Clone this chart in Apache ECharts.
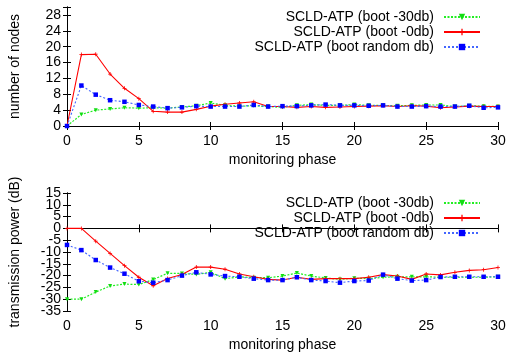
<!DOCTYPE html>
<html>
<head>
<meta charset="utf-8">
<script src="https://cdn.jsdelivr.net/npm/echarts@6/dist/echarts.min.js"></script>
<style>
  html, body { margin: 0; padding: 0; background: #fff; }
  #chart { width: 509px; height: 360px; }
</style>
</head>
<body>
<div id="chart"></div>
<script>
// monitoring phases (x)
const phases = [0, 1, 2, 3, 4, 5, 6, 7, 8, 9, 10, 11, 12, 13, 14, 15, 16, 17, 18, 19, 20, 21, 22, 23, 24, 25, 26, 27, 28, 29, 30]

const seriesNames = ["SCLD-ATP (boot -30db)", "SCLD-ATP (boot -0db)", "SCLD-ATP (boot random db)"]

// number of nodes
const nodes30db = [0, 2.9, 4.0, 4.3, 4.6, 4.5, 4.6, 4.5, 4.8, 5.1, 5.8, 5.2, 5.0, 5.1, 4.9, 4.7, 5.2, 5.4, 5.2, 5.2, 5.4, 5.2, 5.2, 5.1, 5.2, 5.3, 5.3, 4.9, 5.1, 5.0, 4.9]
const nodes0db = [0, 18.0, 18.1, 13.1, 9.5, 6.9, 3.7, 3.5, 3.5, 4.2, 5.0, 5.5, 5.8, 6.1, 4.9, 4.9, 4.7, 4.9, 4.7, 4.8, 4.9, 5.0, 5.1, 4.9, 5.1, 5.0, 4.6, 4.8, 5.0, 4.9, 4.9]
const nodesRandom = [0, 10.2, 7.9, 6.5, 6.1, 5.3, 4.9, 4.5, 4.7, 5.0, 4.9, 4.9, 4.9, 5.3, 4.9, 5.0, 5.0, 5.2, 5.4, 5.2, 5.2, 5.1, 5.2, 4.9, 4.9, 5.0, 4.9, 4.9, 5.1, 4.6, 4.7]

// transmission power (dB)
const power30db = [-30, -30, -27, -24.4, -23.6, -23.8, -21.7, -19, -19.1, -19.5, -18.6, -21.3, -20.5, -20.9, -20.9, -20.2, -18.9, -20.2, -21, -21.6, -21.1, -21.3, -20.7, -20.5, -20.5, -20.5, -20.7, -20.7, -20.7, -20.7, -20.5]
const power0db = [0, 0, -5.4, -10.6, -15.8, -20.7, -24.3, -21.2, -19.5, -16.4, -16.4, -17.3, -19.3, -20.5, -21.6, -21.9, -20.7, -21.6, -21.3, -21.3, -21.3, -20.7, -19.6, -20.2, -21.6, -19.3, -19.7, -18.6, -17.8, -17.5, -16.6]
const powerRandom = [-7.0, -9.2, -13.4, -16.6, -19.2, -22.4, -23, -21.9, -20, -18.6, -19.5, -20.2, -20.5, -21.3, -21.9, -21.9, -20.7, -21.9, -22.3, -23, -22.3, -22.1, -19.6, -21.3, -22.1, -21.9, -20.6, -20.5, -20.5, -20.5, -20.5]

const plusPath = "path://M0,1.6H1.6V0H2.4V1.6H4V2.4H2.4V4H1.6V2.4H0Z"

const font = "Liberation Sans"
const fs = 14
const grids = [
  { left: 65, right: 11, top: 7, height: 119 },
  { left: 65, right: 11, top: 193, height: 118 },
]

function xAxes(gi) {
  return [
    {
      type: "value", gridIndex: gi, min: 0, max: 30, interval: 5,
      name: "monitoring phase", nameLocation: "middle", nameGap: 27,
      nameTextStyle: { fontFamily: font, fontSize: fs, color: "#000" },
      axisLine: { show: true, lineStyle: { color: "#000", width: 1 } },
      axisTick: { inside: true, length: 4, lineStyle: { color: "#000" } },
      axisLabel: { fontFamily: font, fontSize: fs, color: "#000", margin: 8, showMinLabel: true, showMaxLabel: true },
      splitLine: { show: false },
    },
    {
      type: "value", gridIndex: gi, min: 0, max: 30, interval: 5, position: "top",
      axisLine: { show: true, lineStyle: { color: "#000", width: 1 } },
      axisTick: { inside: true, length: 4, lineStyle: { color: "#000" } },
      axisLabel: { show: false },
      splitLine: { show: false },
    },
  ]
}

// main left axis (labels except the ends) + right mirror axis + a label-only axis for the end values
function yAxes(gi, min, max, interval, name) {
  return [
    {
      type: "value", gridIndex: gi, min: min, max: max, interval: interval,
      name: name, nameLocation: "middle", nameGap: 45,
      nameTextStyle: { fontFamily: font, fontSize: fs, color: "#000" },
      axisLine: { show: true, lineStyle: { color: "#000", width: 1 } },
      axisTick: { inside: true, length: 4, lineStyle: { color: "#000" } },
      axisLabel: {
        fontFamily: font, fontSize: fs, color: "#000", margin: 6,
        formatter: (v) => (v === min || v === max ? "" : String(v)),
      },
      splitLine: { show: false },
    },
    {
      type: "value", gridIndex: gi, min: min, max: max, interval: interval, position: "right",
      axisLine: { show: true, lineStyle: { color: "#000", width: 1 } },
      axisTick: { inside: true, length: 4, lineStyle: { color: "#000" } },
      axisLabel: { show: false },
      splitLine: { show: false },
    },
    {
      type: "value", gridIndex: gi, min: min, max: max, interval: max - min, position: "left",
      axisLine: { show: false }, axisTick: { show: false }, splitLine: { show: false },
      axisLabel: {
        fontFamily: font, fontSize: fs, color: "#000", margin: 6,
        showMinLabel: true, showMaxLabel: true,
        formatter: (v) => (gi === 0 && v === max ? "" : String(v)),
      },
    },
  ]
}

function pairs(ys) {
  return phases.map((x, i) => [x, ys[i]])
}

function makeSeries(gi, green, red, blue) {
  const xi = gi * 2
  const yi = gi * 3
  return [
    {
      name: seriesNames[0], type: "line", xAxisIndex: xi, yAxisIndex: yi,
      data: pairs(green), symbol: "triangle", symbolRotate: 180, symbolSize: 4,
      lineStyle: { color: "#22ee22", width: 1.2, type: [2, 1.5] },
      itemStyle: { color: "#11dd11" }, animation: false,
    },
    {
      name: seriesNames[1], type: "line", xAxisIndex: xi, yAxisIndex: yi,
      data: pairs(red), symbol: plusPath, symbolSize: 4,
      lineStyle: { color: "#ff0000", width: 1.1 },
      itemStyle: { color: "#ff0000" }, animation: false,
    },
    {
      name: seriesNames[2], type: "line", xAxisIndex: xi, yAxisIndex: yi,
      data: pairs(blue), symbol: "rect", symbolSize: 4.5,
      lineStyle: { color: "#4466ff", width: 1.1, type: [2, 2] },
      itemStyle: { color: "#0000ff" }, animation: false,
    },
  ]
}

function legendAt(top) {
  return {
    data: seriesNames, orient: "vertical", align: "right",
    right: 23, top: top, itemWidth: 36, itemHeight: 8, itemGap: 1,
    textStyle: { fontFamily: font, fontSize: fs, color: "#000", lineHeight: 14, padding: [0, 5, 0, 0] },
    selectedMode: false,
  }
}

const chart = echarts.init(document.getElementById("chart"))
chart.setOption({
  backgroundColor: "#fff",
  animation: false,
  grid: grids,
  legend: [legendAt(5), legendAt(191)],
  xAxis: [...xAxes(0), ...xAxes(1)],
  yAxis: [
    ...yAxes(0, 0, 30, 4, "number of nodes"),
    ...yAxes(1, -35, 15, 5, "transmission power (dB)"),
  ],
  series: [
    ...makeSeries(0, nodes30db, nodes0db, nodesRandom),
    ...makeSeries(1, power30db, power0db, powerRandom),
  ],
})
</script>
</body>
</html>
